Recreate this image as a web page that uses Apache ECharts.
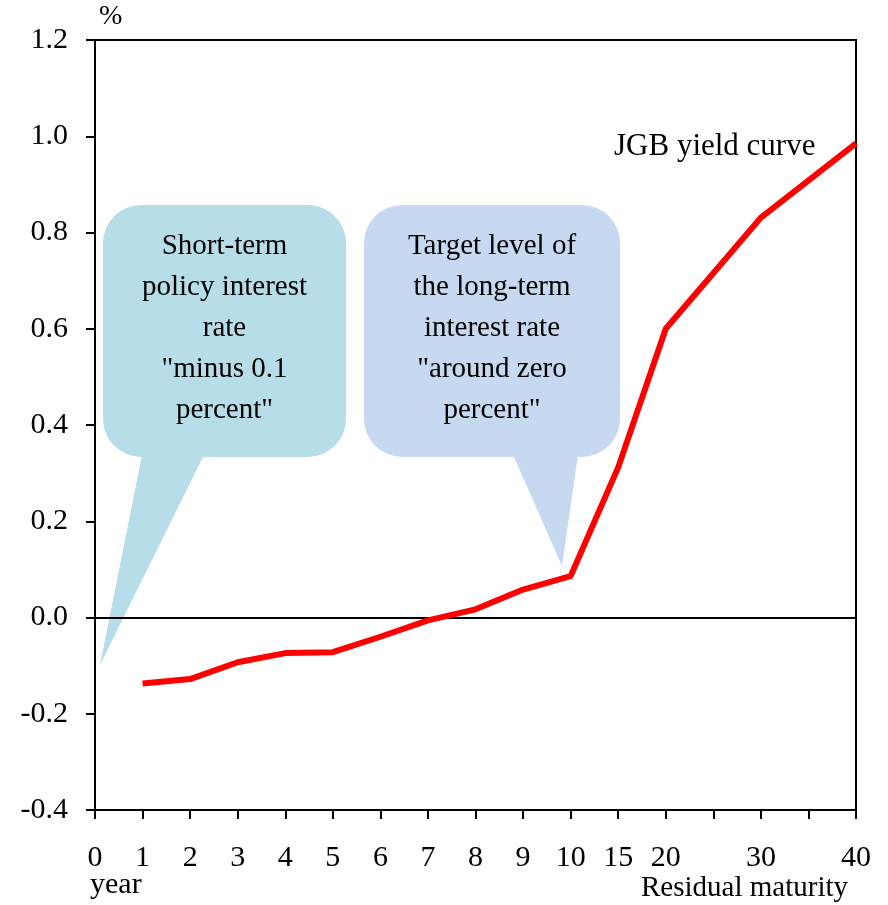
<!DOCTYPE html>
<html>
<head>
<meta charset="utf-8">
<script src="https://cdn.jsdelivr.net/npm/echarts@6/dist/echarts.min.js"></script>
<style>
html,body{margin:0;padding:0;background:#fff;}
#chart{width:888px;height:905px;}
</style>
</head>
<body>
<div id="chart"></div>
<script>
var categories = ['0','1','2','3','4','5','6','7','8','9','10','15','20','25','30','35','40'];
var hiddenLabels = ['25','35'];
var yieldValues = [null,-0.137,-0.128,-0.093,-0.074,-0.072,-0.04,-0.006,0.017,0.058,0.086,0.312,0.600,null,0.831,null,0.985];
var yTicks = {min:-0.4, max:1.2, interval:0.2};
var seriesName = 'JGB yield curve';
var bubble1Lines = ['Short-term','policy interest','rate','"minus 0.1','percent"'];
var bubble2Lines = ['Target level of','the long-term','interest rate','"around zero','percent"'];

var FONT = "'Liberation Serif','Times New Roman',serif";
var chart = echarts.init(document.getElementById('chart'));

function bubble(x, y, w, h, tail, fill, lines) {
  return {
    type: 'group',
    silent: true,
    z: 1,
    children: [
      {type:'rect', shape:{x:x,y:y,width:w,height:h,r:38}, style:{fill:fill}},
      {type:'polygon', shape:{points:tail}, style:{fill:fill}},
      {type:'text', x:x + w/2, y:y + 21, style:{
        text: lines.join('\n'), fontSize:29, fontFamily:FONT, fill:'#000',
        textAlign:'center', textVerticalAlign:'top', lineHeight:41
      }}
    ]
  };
}

var option = {
  animation: false,
  backgroundColor: '#fff',
  grid: {left:95, right:32, top:40, bottom:95, show:true, borderColor:'#000', borderWidth:2, backgroundColor:'transparent'},
  xAxis: {
    type:'category', data:categories, boundaryGap:false,
    axisLine:{show:true, onZero:false, lineStyle:{color:'#000', width:2}},
    axisTick:{show:true, inside:false, length:9, alignWithLabel:true, lineStyle:{color:'#000', width:2}, interval:0},
    axisLabel:{interval:0, margin:33, color:'#000', fontSize:30, fontFamily:FONT,
      formatter:function(v){ return hiddenLabels.indexOf(v) >= 0 ? '' : v; }},
    splitLine:{show:false}
  },
  yAxis: {
    type:'value', min:yTicks.min, max:yTicks.max, interval:yTicks.interval,
    axisLine:{show:true, lineStyle:{color:'#000', width:2}},
    axisTick:{show:true, length:9, lineStyle:{color:'#000', width:2}},
    axisLabel:{margin:27, color:'#000', fontSize:30, fontFamily:FONT,
      formatter:function(v){ return v.toFixed(1); }},
    splitLine:{show:false}
  },
  series: [{
    name: seriesName, type:'line', data:yieldValues, connectNulls:true,
    showSymbol:false, symbol:'none', z:3,
    lineStyle:{color:'#ff0000', width:6, join:'round'},
    markLine:{silent:true, symbol:['none','none'], label:{show:false},
      lineStyle:{color:'#000', width:2, type:'solid'}, data:[{yAxis:0}], z:2}
  }],
  graphic: [
    bubble(103, 205, 243, 252, [[142,455],[204,455],[100,665]], '#b7dde8', bubble1Lines),
    bubble(364, 205, 256, 252, [[513,455],[578,455],[562,566]], '#c6d9f0', bubble2Lines),
    {type:'text', left:614, top:131, silent:true, style:{text:seriesName, fontSize:31, fontFamily:FONT, fill:'#000'}},
    {type:'text', left:99, top:3, silent:true, style:{text:'%', fontSize:28, fontFamily:FONT, fill:'#000'}},
    {type:'text', left:90, top:870, silent:true, style:{text:'year', fontSize:30, fontFamily:FONT, fill:'#000'}},
    {type:'text', left:641, top:874, silent:true, style:{text:'Residual maturity', fontSize:29, fontFamily:FONT, fill:'#000'}}
  ]
};
chart.setOption(option);
</script>
</body>
</html>
